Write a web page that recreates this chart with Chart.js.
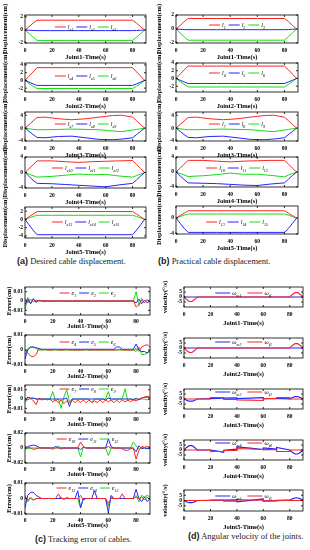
<!DOCTYPE html>
<html>
<head>
<meta charset="utf-8">
<script src="https://cdn.jsdelivr.net/npm/chart.js@4.4.1/dist/chart.umd.min.js"></script>
<style>
  body { margin: 0; width: 310px; height: 550px; background: #fff; position: relative; overflow: hidden; }
  canvas { position: absolute; }
  .cap { position: absolute; font: 8.5px "Liberation Serif", serif; color: #222; white-space: nowrap; }
  .cap b { font: bold 9px "Liberation Sans", sans-serif; }
</style>
</head>
<body>
<div class="cap" style="left:17px;top:256px"><b>(a)</b> Desired cable displacement.</div>
<div class="cap" style="left:158px;top:256px"><b>(b)</b> Practical cable displacement.</div>
<div class="cap" style="left:35px;top:534px"><b>(c)</b> Tracking error of cables.</div>
<div class="cap" style="left:188px;top:531px"><b>(d)</b> Angular velocity of the joints.</div>
<script>
// ---- time axes ----
const xTicks = [0, 20, 40, 60, 80];
const tA = [0, 3, 6, 9, 20, 30, 40, 50, 60, 70, 80, 83, 86, 89];
const tA3 = [0, 3, 6, 9, 15, 25, 35, 45, 55, 65, 72, 80, 83, 86, 89];
const tC = [0,2,4,6,8,10,12,14,16,18,20,22,24,26,28,30,32,34,36,38,40,42,44,46,48,50,52,54,56,58,60,62,64,66,68,70,72,74,76,78,80,82,84,86,88,90];
const tD12 = [0,1,2,3,4,5,6,7,8,9,10,80,81,82,83,84,85,86,87,88,89,90];
const tD = [0,1,2,3,4,5,6,7,8,9,10,20,20,30,30,40,40,50,60,60,70,70,80,80,81,82,83,84,85,86,87,88,89,90];

// ---- (a) desired cable displacement ----
const a1Red   = [0, 0.5, 1.05, 1.5, 1.5, 1.5, 1.5, 1.5, 1.5, 1.5, 1.5, 1.05, 0.5, 0];
const a1Blue  = [0, -0.04, -0.08, -0.1, -0.1, -0.1, -0.1, -0.1, -0.1, -0.1, -0.1, -0.08, -0.04, 0];
const a1Green = [0, -0.55, -1.1, -1.6, -1.6, -1.6, -1.6, -1.6, -1.6, -1.6, -1.6, -1.1, -0.55, 0];
const a2Red   = [0, 1.1, 2.2, 3.3, 3.3, 3.3, 3.3, 3.3, 3.3, 3.3, 3.3, 2.2, 1.1, 0];
const a2Blue  = [0, -0.45, -0.9, -1.3, -1.3, -1.3, -1.3, -1.3, -1.3, -1.3, -1.3, -0.9, -0.45, 0];
const a2Green = [0, -0.8, -1.5, -2.1, -2.1, -2.1, -2.1, -2.1, -2.1, -2.1, -2.1, -1.5, -0.8, 0];
const a3Red   = [0, 1.1, 2.2, 3.3, 3.4, 2.9, 2.6, 2.9, 3.4, 3.9, 4.0, 3.4, 2.3, 1.1, 0];
const a3Green = [0, -0.2, -0.4, -0.5, -0.5, -0.4, -0.3, -0.4, -0.5, -0.9, -1.1, -0.6, -0.4, -0.2, 0];
const a3Blue  = [0, -1.0, -2.0, -2.9, -3.0, -2.6, -2.5, -3.0, -3.5, -3.6, -3.4, -3.0, -2.0, -1.0, 0];
const a4Red   = [0, 1.0, 2.0, 3.0, 3.0, 2.8, 2.6, 2.8, 2.9, 3.0, 3.1, 2.1, 1.0, 0];
const a4Green = [0, -0.4, -0.8, -1.2, -1.0, -0.7, -0.4, -0.6, -0.5, -0.9, -1.2, -0.8, -0.4, 0];
const a4Blue  = [0, -1.0, -2.0, -2.8, -2.9, -3.1, -3.3, -3.5, -3.7, -3.2, -2.8, -1.9, -0.9, 0];
const a5Red   = [0, 0.65, 1.3, 1.9, 1.9, 1.9, 1.9, 1.9, 1.9, 1.9, 1.9, 1.3, 0.65, 0];
const a5Green = [0, 0.35, 0.7, 1.0, 1.0, 1.0, 1.0, 1.0, 1.0, 1.0, 1.0, 0.7, 0.35, 0];
const a5Blue  = [0, -1.3, -2.6, -3.7, -3.7, -3.7, -3.7, -3.7, -3.7, -3.7, -3.7, -2.6, -1.3, 0];

// ---- (b) practical cable displacement ----
const b1Red   = [0, 0.5, 1.05, 1.5, 1.5, 1.5, 1.5, 1.5, 1.5, 1.5, 1.5, 1.05, 0.5, 0];
const b1Blue  = [0, -0.04, -0.08, -0.1, -0.1, -0.1, -0.1, -0.1, -0.1, -0.1, -0.1, -0.08, -0.04, 0];
const b1Green = [0, -0.55, -1.1, -1.6, -1.6, -1.6, -1.6, -1.6, -1.6, -1.6, -1.6, -1.1, -0.55, 0];
const b2Red   = [0, 1.1, 2.2, 3.2, 3.2, 3.2, 3.2, 3.2, 3.2, 3.2, 3.2, 2.2, 1.1, 0];
const b2Blue  = [0, -0.45, -0.9, -1.3, -1.3, -1.3, -1.3, -1.3, -1.3, -1.3, -1.3, -0.9, -0.45, 0];
const b2Green = [0, -0.8, -1.5, -2.2, -2.2, -2.2, -2.2, -2.2, -2.2, -2.2, -2.2, -1.5, -0.8, 0];
const b3Red   = [0, 1.1, 2.2, 3.3, 3.4, 2.9, 2.6, 2.9, 3.4, 3.9, 4.0, 3.4, 2.3, 1.1, 0];
const b3Green = [0, -0.2, -0.4, -0.5, -0.5, -0.4, -0.3, -0.4, -0.5, -0.9, -1.1, -0.6, -0.4, -0.2, 0];
const b3Blue  = [0, -1.0, -2.0, -2.9, -3.0, -2.6, -2.5, -3.0, -3.5, -3.6, -3.4, -3.0, -2.0, -1.0, 0];
const b4Red   = [0, 1.0, 2.1, 3.1, 3.1, 2.9, 2.7, 2.9, 3.0, 3.1, 3.1, 2.1, 1.0, 0];
const b4Green = [0, -0.4, -0.8, -1.2, -1.0, -0.7, -0.3, -0.6, -0.6, -0.9, -1.3, -0.8, -0.4, 0];
const b4Blue  = [0, -1.0, -2.0, -2.9, -3.0, -3.1, -3.3, -3.5, -3.6, -3.2, -2.9, -1.9, -0.9, 0];
const b5Red   = [0, 0.6, 1.2, 1.8, 1.8, 1.8, 1.8, 1.8, 1.8, 1.8, 1.8, 1.2, 0.6, 0];
const b5Green = [0, 0.35, 0.7, 1.0, 1.0, 1.0, 1.0, 1.0, 1.0, 1.0, 1.0, 0.7, 0.35, 0];
const b5Blue  = [0, -1.3, -2.6, -3.6, -3.6, -3.6, -3.6, -3.6, -3.6, -3.6, -3.6, -2.6, -1.3, 0];

// ---- (c) tracking error of cables ----
const e1 = [0.003,-0.002,0.002,-0.001,0.001,0,0.0003,0,0.0002,0,
  0.0003,0,0.0002,0,0.0003,0,0.0002,0,0.0003,0,
  0.0002,0,0.0003,0,0.0002,0,0.0003,0,0.0002,0,
  0.0003,0,0.0002,0,0.0003,0,0.0002,0,0.0003,0.0005,
  -0.0065,-0.004,0.001,-0.002,0.001,-0.001];
const e2 = [-0.004,0.002,-0.003,0.002,-0.001,0.0005,0,-0.0002,0,-0.0002,
  0,-0.0002,0,-0.0002,0,-0.0002,0,-0.0002,0,-0.0002,
  0,-0.0002,0,-0.0002,0,-0.0002,0,-0.0002,0,-0.0002,
  0,-0.0002,0,-0.0002,0,-0.0002,0,-0.0002,0,0,
  -0.002,0.002,-0.003,0.001,-0.002,0];
const e3 = [-0.009,0.004,-0.003,0.003,-0.002,0.001,0,0,0,0,
  0,0,0,0,0,0,0,0,0,0,
  0,0,0,0,0,0,0,0,0,0,
  0,0,0,0,0,0,0,0,0,0,
  0.01,-0.005,0.003,-0.002,0.002,-0.001];
const e4 = [0,-0.002,-0.004,-0.0045,-0.003,0.001,0,0.0005,0,0,
  0,0.0005,0,0,0,0.0005,0,0,0,0,
  0,0,0.0003,0,0,0,0,0,0,0,
  0,0,0,0,0.0005,0,0,0,0,0,
  0.001,-0.001,0.002,0.003,0.0035,0.002];
const e5 = [-0.006,0,0.002,0.002,0.0015,0.001,0.0005,0.0005,0.0005,0.0005,
  0.0005,0.0005,0.0005,0.0005,0.0005,0.0005,0.0005,0.0005,0.0005,0.0005,
  0.0005,0.0005,0.0005,0.0005,0.0005,0.0005,0.0005,0.0005,0.0005,0.0005,
  0.0005,0.0005,0.0005,0.002,0.002,0.0005,0.0005,0.0005,0.0005,0.0005,
  0.004,0,-0.001,-0.001,-0.002,0];
const e6 = [-0.003,0.001,0.002,0.002,0.001,0,0,0,0,0,
  0,0,0,0,0,0,0,0,0,0,
  0,0,0,0,0,0,0,0,0,0,
  0,0,0,0,0,0,0,0,0,0,
  -0.001,0.002,-0.003,-0.003,-0.002,-0.001];
const e7 = [0,-0.001,0.001,-0.002,-0.006,0.001,-0.001,0,-0.001,0,
  -0.003,-0.001,-0.004,-0.001,-0.005,-0.002,-0.004,-0.001,-0.004,-0.001,
  -0.004,-0.001,-0.004,-0.001,-0.004,-0.002,-0.004,-0.001,-0.004,-0.001,
  -0.003,-0.001,-0.004,-0.001,-0.004,-0.001,-0.003,-0.001,-0.003,-0.001,
  -0.002,0,0.001,0.002,0.003,0.002];
const e8 = [-0.002,0.002,0.001,0.001,0,0,0,0,0,0,
  0,0,0,0,0,0.001,-0.008,0,0,0,
  0,0,0,0,0,0,0,0,0,-0.001,
  0.001,0,0,0,0,0,0,0,0,-0.001,
  0.001,-0.001,0.001,0.002,0.002,0.001];
const e9 = [-0.004,0.002,0,0.001,0,0,0,0,0,0,
  0.008,-0.002,0,-0.01,0.002,0.01,-0.003,0,0,0,
  0,0,0,0,-0.004,0,0,0,0,0,
  0.008,-0.002,0,0,0,0,0.011,-0.002,0,0,
  -0.001,0,0,0,-0.001,0];
const e10 = [0.002,0.001,0,-0.002,-0.001,0,0,0,0,0,
  0,0,0,0,0,0,0,0,0,0,
  0.008,0.002,0,0,0,0,0,0,0,0,
  0.002,0,0,0,0,-0.001,-0.003,-0.003,-0.001,0,
  -0.015,-0.003,0.002,0.001,0.002,0.001];
const e11 = [-0.002,0.002,0.003,0.004,0.003,0.001,0,0,0,0,
  0,0.002,0,0,0,0,0,0,0,0,
  -0.002,0.001,0,0,0,0,0,0,0,0,
  0.012,0.002,0,0,0,0,0,0,0,0,
  -0.005,0.003,-0.001,0,-0.001,0];
const e12 = [0.001,-0.001,0,0,0,0,0,0,0,0,
  -0.002,0,0.003,-0.002,0,0,0,0,0,0,
  -0.012,0.001,0,0,0,0,0,0,0,0,
  -0.01,0,0,0,0,0,0,0,0,0.008,
  0.003,-0.002,0.001,0,0,0];
const e13 = [0.001,-0.001,0,-0.001,0,0,0,0,0,0,
  0,0,0.003,0,0,0,0,0,0,0,
  0.002,-0.001,0,0,0,0,0,0,0,0,
  -0.003,0,0,0,0,0.003,0,0,0,0,
  0.001,0,0.001,-0.001,0.001,-0.001];
const e14 = [-0.006,0.002,0.004,0.004,0.002,0.001,0,0,0,0,
  0,0,0,0,0,0,0,0,0,0.005,
  -0.006,0,0,0,0,0.005,0,0,0,0,
  -0.009,0.002,0,0,0,0,0,0,0,0,
  0.006,0,-0.002,0.001,-0.002,0];
const e15 = [0.002,-0.002,0.001,-0.001,0,0,0,0,0,0,
  0,0,0,0.001,-0.001,0.001,0,0,0,0,
  -0.006,0,0,0,0,0,0,0,0,0,
  -0.005,0.001,0,0,0,0,0,0,0,0,
  0.002,-0.002,0.002,0.001,0.002,0.001];

// ---- (d) angular velocity of the joints ----
const wm1 = [0,0,0,0,0,0,0,0,0,0,0,0,0,0,0,0,0,0,0,0,0,0];
const wf1 = [0,-1.4,-2.6,-3.6,-4.3,-4.5,-4.3,-3.6,-2.6,-1.4,0,0,1.4,2.6,3.6,4.3,4.5,4.3,3.6,2.6,1.4,0];
const wm2 = [0,0,0,0,0,0,0,0,0,0,0,0,0,0,0,0,0,0,0,0,0,0];
const wf2 = [0,-1.4,-2.6,-3.6,-4.3,-4.5,-4.3,-3.6,-2.6,-1.4,0,0,1.4,2.6,3.6,4.3,4.5,4.3,3.6,2.6,1.4,0];
const wm3 = [0,-0.7,-1.3,-1.8,-2.1,-2.2,-2.1,-1.8,-1.3,-0.7,0, 0.3,0.3,0.8,0.8,1.1,0.4,0.8,1.3,0.1,0.5,0.5,0.2,0, 0.8,1.5,2.0,2.4,2.5,2.4,2.0,1.5,0.8,0];
const wf3 = [0,0,0,0,0,0,0,0,0,0,0, 0,1.5,1.5,-0.5,-0.5,-1.0,-1.2,-1.5,0.5,0.5,1.5,1.5,0, 0,0,0,0,0,0,0,0,0,0];
const wm4 = [0,1.4,2.6,3.6,4.3,4.5,4.3,3.6,2.6,1.4,0, 0,0,-2.2,-0.3,0.8,3.0,1.8,0.3,2.2,0.9,2.5,0,0, -1.2,-2.3,-3.2,-3.8,-4.0,-3.8,-3.2,-2.3,-1.2,0];
const wf4 = [0,0,0,0,0,0,0,0,0,0,0, 0,-1.5,-1.5,-0.5,-0.5,1.5,1.0,0.5,0.3,0.3,-1.5,-1.5,0, 0,0,0,0,0,0,0,0,0,0];
const wm5 = [0,-0.7,-1.3,-1.7,-2.0,-2.1,-2.0,-1.7,-1.3,-0.7,0, 0.1,0.1,0.3,0.3,0.6,-1.2,0.2,1.4,-0.5,-0.2,-0.2,0.3,0.3, 1.0,1.6,2.1,2.4,2.5,2.4,2.1,1.6,1.0,0.3];
const wf5 = [0,0,0,0,0,0,0,0,0,0,0, 0,0.3,0.3,-0.6,-0.6,0.8,0.5,0.3,-0.3,-0.3,0.2,0.2,0, 0,0,0,0,0,0,0,0,0,0];

// ---- y tick labels ----
const ytA1 = [-2, 0, 2], ytA2 = [-2, 0, 2, 4], ytA3 = [-4, -2, 0, 2, 4], ytA4 = [-4, -2, 0, 2, 4], ytA5 = [-4, -2, 0, 2];
const ytC = [-0.01, 0, 0.01], ytC4 = [-0.02, 0, 0.02];
const ytD = [-5, 0, 5];

// ---- legend labels ----
const subA = [['e1','e2','e3'], ['e4','e5','e6'], ['e7','e8','e9'], ['e10','e11','e12'], ['e13','e14','e15']];
const subB = [['1','2','3'], ['4','5','6'], ['7','8','9'], ['10','11','12'], ['13','14','15']];
const subD = [['m1','f1'], ['m2','f2'], ['m3','f3'], ['m4','f4'], ['m5','f5']];

const RED = '#ff2424', BLUE = '#2424ff', GREEN = '#14dc14';
const SERIF = '"Liberation Serif", "Times New Roman", serif';

// box with inward ticks
Chart.register({
  id: 'box',
  afterDraw(chart) {
    const { ctx, chartArea: a, scales } = chart;
    ctx.save();
    ctx.strokeStyle = '#000';
    ctx.lineWidth = 0.8;
    ctx.strokeRect(a.left, a.top, a.right - a.left, a.bottom - a.top);
    ctx.beginPath();
    scales.x.ticks.forEach(t => {
      const px = scales.x.getPixelForValue(t.value);
      ctx.moveTo(px, a.bottom); ctx.lineTo(px, a.bottom - 2);
      ctx.moveTo(px, a.top); ctx.lineTo(px, a.top + 2);
    });
    scales.y.ticks.forEach(t => {
      const py = scales.y.getPixelForValue(t.value);
      ctx.moveTo(a.left, py); ctx.lineTo(a.left + 2, py);
      ctx.moveTo(a.right, py); ctx.lineTo(a.right - 2, py);
    });
    ctx.stroke();
    ctx.restore();
  }
});

// legend inside the plot, with subscripts
Chart.register({
  id: 'inLegend',
  afterDatasetsDraw(chart) {
    const o = chart.canvas._leg;
    if (!o) return;
    const { ctx, chartArea: a } = chart;
    const mf = 'italic 6px ' + SERIF, sf = 'italic 4px ' + SERIF;
    ctx.save();
    const ws = o.items.map(it => {
      ctx.font = mf; const m = ctx.measureText(it.m).width;
      ctx.font = sf; const s = ctx.measureText(it.s).width;
      return { m, s };
    });
    const total = ws.reduce((acc, w) => acc + o.len + 2 + w.m + w.s, 0) + o.gap * (o.items.length - 1);
    let x = (a.left + a.right) / 2 - total / 2;
    const y = a.top + o.y;
    o.items.forEach((it, i) => {
      ctx.strokeStyle = it.c; ctx.lineWidth = 1;
      ctx.beginPath(); ctx.moveTo(x, y); ctx.lineTo(x + o.len, y); ctx.stroke();
      x += o.len + 2;
      ctx.fillStyle = '#000';
      ctx.font = mf; ctx.fillText(it.m, x, y + 2);
      x += ws[i].m;
      ctx.font = sf; ctx.fillText(it.s, x, y + 3.5);
      x += ws[i].s + o.gap;
    });
    ctx.restore();
  }
});

const colA = { x: 25, w: 121, yw: 25, ytp: 1, xh: 18, xpad: 4 };
const colB = { x: 176, w: 122, yw: 21, ytp: 0.5, xh: 18, xpad: 4 };
const colC = { x: 25, w: 125, yw: 25, ytp: 5, xh: 15, xpad: 3 };
const colD = { x: 184, w: 119, yw: 26, ytp: 3, xh: 20, xpad: 4 };

function makePanel(p) {
  const c = p.col, PT = 12, PR = 4;
  const W = c.w + c.yw + PR, H = p.row[1] + PT + c.xh;
  const cv = document.createElement('canvas');
  cv.width = W; cv.height = H;
  cv.style.left = (c.x - c.yw) + 'px';
  cv.style.top = (p.row[0] - PT) + 'px';
  cv.style.width = W + 'px';
  cv.style.height = H + 'px';
  cv._leg = p.leg;
  document.body.appendChild(cv);
  const tickFont = { family: SERIF, size: 5.5, weight: 'bold' };
  const titleFont = { family: SERIF, size: 6.5, weight: 'bold' };
  new Chart(cv, {
    type: 'line',
    data: {
      datasets: p.s.map(([vals, color]) => ({
        data: vals.map((v, i) => ({ x: p.t[i], y: v })),
        borderColor: color,
        borderWidth: p.lw || 1,
        pointRadius: 0,
        tension: 0,
        fill: false
      }))
    },
    options: {
      responsive: false,
      animation: false,
      devicePixelRatio: 1,
      layout: { padding: { top: PT, right: PR, left: 0, bottom: 0 } },
      plugins: { legend: { display: false }, tooltip: { enabled: false } },
      scales: {
        x: {
          type: 'linear', min: 0, max: 90,
          afterFit: s => { s.height = c.xh; },
          afterBuildTicks: s => { s.ticks = xTicks.map(v => ({ value: v })); },
          grid: { display: false, drawTicks: false },
          border: { display: false },
          ticks: { font: tickFont, color: '#000', padding: c.xpad, autoSkip: false, maxRotation: 0 },
          title: { display: true, text: p.xl, font: titleFont, color: '#000', padding: 0 }
        },
        y: {
          min: p.yr[0], max: p.yr[1],
          afterFit: s => { s.width = c.yw; },
          afterBuildTicks: s => { s.ticks = p.yt.map(v => ({ value: v })); },
          grid: { display: false, drawTicks: false },
          border: { display: false },
          ticks: { font: tickFont, color: '#000', padding: 2, callback: v => String(v) },
          title: { display: true, text: p.yl, font: titleFont, color: '#000', padding: { top: c.ytp, bottom: 0 } }
        }
      }
    }
  });
}

function leg3(main, subs, y, len, gap) {
  return { y, len, gap, items: [
    { c: RED, m: main, s: subs[0] }, { c: BLUE, m: main, s: subs[1] }, { c: GREEN, m: main, s: subs[2] }
  ] };
}
function leg2(subs, y) {
  return { y, len: 15, gap: 6, items: [ { c: BLUE, m: 'ω', s: subs[0] }, { c: RED, m: 'ω', s: subs[1] } ] };
}

const DISP = 'Displacement(cm)', ERR = 'Error(cm)', VEL = 'velocity(°/s)';
const J = ['Joint1-Time(s)', 'Joint2-Time(s)', 'Joint3-Time(s)', 'Joint4-Time(s)', 'Joint5-Time(s)'];

const panels = [
  // (a)
  { col: colA, row: [15, 28], t: tA, s: [[a1Red, RED], [a1Blue, BLUE], [a1Green, GREEN]], yr: [-2, 2.3], yt: ytA1, yl: DISP, xl: J[0], leg: leg3('l', subA[0], 12, 11, 3) },
  { col: colA, row: [63, 29], t: tA, s: [[a2Red, RED], [a2Blue, BLUE], [a2Green, GREEN]], yr: [-3, 4.5], yt: ytA2, yl: DISP, xl: J[1], leg: leg3('l', subA[1], 13, 11, 3) },
  { col: colA, row: [112, 29], t: tA3, s: [[a3Red, RED], [a3Blue, BLUE], [a3Green, GREEN]], yr: [-4, 5], yt: ytA3, yl: DISP, xl: J[2], leg: leg3('l', subA[2], 12, 11, 3) },
  { col: colA, row: [157, 31], t: tA, s: [[a4Red, RED], [a4Blue, BLUE], [a4Green, GREEN]], yr: [-4, 4], yt: ytA4, yl: DISP, xl: J[3], leg: leg3('l', subA[3], 11, 11, 3) },
  { col: colA, row: [207, 31], t: tA, s: [[a5Red, RED], [a5Blue, BLUE], [a5Green, GREEN]], yr: [-4.5, 3], yt: ytA5, yl: DISP, xl: J[4], leg: leg3('l', subA[4], 15, 11, 3) },
  // (b)
  { col: colB, row: [15, 28], t: tA, s: [[b1Red, RED], [b1Blue, BLUE], [b1Green, GREEN]], yr: [-2, 2], yt: ytA1, yl: DISP, xl: J[0], leg: leg3('l', subB[0], 10, 11, 3) },
  { col: colB, row: [63, 29], t: tA, s: [[b2Red, RED], [b2Blue, BLUE], [b2Green, GREEN]], yr: [-3.5, 4], yt: ytA2, yl: DISP, xl: J[1], leg: leg3('l', subB[1], 10, 11, 3) },
  { col: colB, row: [112, 29], t: tA3, s: [[b3Red, RED], [b3Blue, BLUE], [b3Green, GREEN]], yr: [-4, 5], yt: ytA3, yl: DISP, xl: J[2], leg: leg3('l', subB[2], 12, 11, 3) },
  { col: colB, row: [157, 30], t: tA, s: [[b4Red, RED], [b4Blue, BLUE], [b4Green, GREEN]], yr: [-4, 4], yt: ytA4, yl: DISP, xl: J[3], leg: leg3('l', subB[3], 11, 11, 3) },
  { col: colB, row: [206, 28], t: tA, s: [[b5Red, RED], [b5Blue, BLUE], [b5Green, GREEN]], yr: [-4, 3], yt: ytA5, yl: DISP, xl: J[4], leg: leg3('l', subB[4], 16, 11, 3) },
  // (c)
  { col: colC, row: [287, 28], t: tC, s: [[e1, RED], [e2, BLUE], [e3, GREEN]], yr: [-0.015, 0.015], yt: ytC, yl: ERR, xl: J[0], leg: leg3('e', subB[0], 6, 10, 3) },
  { col: colC, row: [335, 30], t: tC, s: [[e4, RED], [e5, BLUE], [e6, GREEN]], yr: [-0.01, 0.01], yt: ytC, yl: ERR, xl: J[1], leg: leg3('e', subB[1], 7, 10, 3) },
  { col: colC, row: [385, 28], t: tC, s: [[e7, RED], [e8, BLUE], [e9, GREEN]], yr: [-0.015, 0.015], yt: ytC, yl: ERR, xl: J[2], leg: leg3('e', subB[2], 4, 10, 3) },
  { col: colC, row: [433, 30], t: tC, s: [[e10, RED], [e11, BLUE], [e12, GREEN]], yr: [-0.02, 0.02], yt: ytC4, yl: ERR, xl: J[3], leg: leg3('e', subB[3], 6, 10, 3) },
  { col: colC, row: [483, 31], t: tC, s: [[e13, RED], [e14, BLUE], [e15, GREEN]], yr: [-0.01, 0.01], yt: ytC, yl: ERR, xl: J[4], leg: leg3('e', subB[4], 5, 10, 3) },
  // (d)
  { col: colD, row: [287, 20], t: tD12, s: [[wf1, RED], [wm1, BLUE]], yr: [-10, 10], yt: ytD, yl: VEL, xl: J[0], lw: 1.2, leg: leg2(subD[0], 6) },
  { col: colD, row: [338, 20], t: tD12, s: [[wf2, RED], [wm2, BLUE]], yr: [-10, 10], yt: ytD, yl: VEL, xl: J[1], lw: 1.2, leg: leg2(subD[1], 4) },
  { col: colD, row: [389, 20], t: tD, s: [[wf3, RED], [wm3, BLUE]], yr: [-10, 10], yt: ytD, yl: VEL, xl: J[2], lw: 1.2, leg: leg2(subD[2], 3) },
  { col: colD, row: [440, 20], t: tD, s: [[wf4, RED], [wm4, BLUE]], yr: [-10, 10], yt: ytD, yl: VEL, xl: J[3], lw: 1.2, leg: leg2(subD[3], 3) },
  { col: colD, row: [490, 21], t: tD, s: [[wf5, RED], [wm5, BLUE]], yr: [-10, 10], yt: ytD, yl: VEL, xl: J[4], lw: 1.2, leg: leg2(subD[4], 6) }
];

panels.forEach(makePanel);
</script>
</body>
</html>
